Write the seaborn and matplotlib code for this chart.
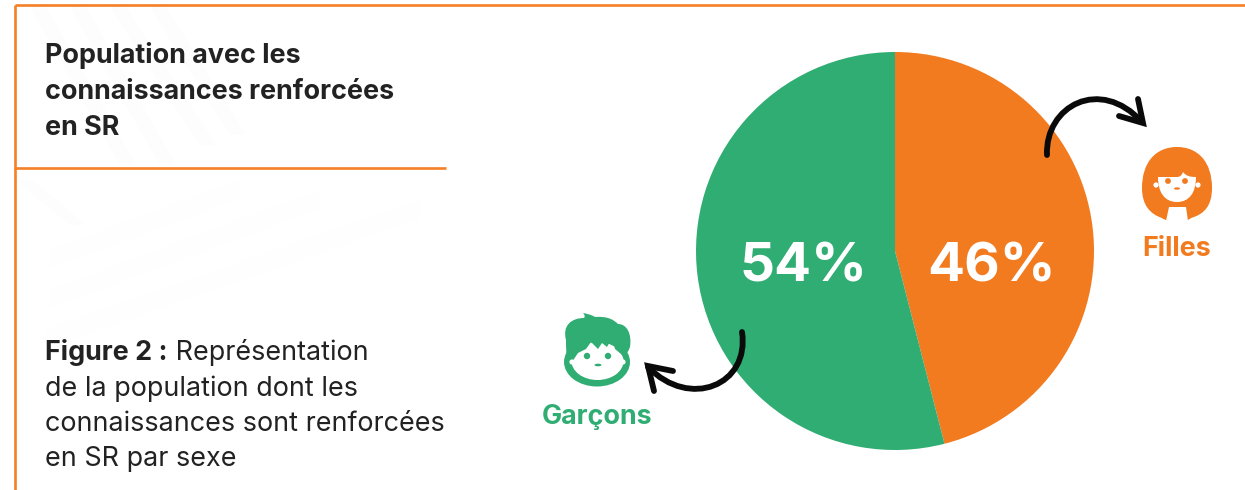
import matplotlib
matplotlib.use("Agg")
import matplotlib.pyplot as plt
from matplotlib.patches import Circle, Ellipse, PathPatch, Polygon
from matplotlib.path import Path
import seaborn as sns

# Share of the population with reinforced knowledge, by sex
sexes = ["Filles", "Garçons"]
shares = [46, 54]
slice_colors = ["#F27A1F", "#2FAD73"]

title_lines = ["Population avec les", "connaissances renforcées", "en SR"]
caption_head = "Figure 2 :"
caption_lines = [" Représentation", "de la population dont les",
                 "connaissances sont renforcées", "en SR par sexe"]

W, H = 1245, 490
LINE = "#F58025"
INK = "#222222"
ARROW = "#0A0A0A"
FS = 19.4

sns.set_theme(style="white")
plt.rcParams["font.family"] = ["Inter", "DejaVu Sans"]

fig = plt.figure(figsize=(W / 100, H / 100), dpi=100, facecolor="white")

# Full-figure layer measured in pixels, for the frame, text and pictograms
bg = fig.add_axes([0, 0, 1, 1], zorder=1)
bg.set_xlim(0, W)
bg.set_ylim(H, 0)
bg.axis("off")


def curve(axes, verts, **kw):
    codes = [Path.MOVETO] + [Path.CURVE4] * (len(verts) - 1)
    patch = PathPatch(Path(verts, codes), **kw)
    axes.add_patch(patch)
    return patch


# Faint woven stripes behind the text column
for x0, y0, x1, y1 in [(30, 7, 120, 165), (70, 7, 160, 165), (110, 7, 200, 145),
                       (150, 7, 230, 135), (16, 180, 70, 225)]:
    bg.add_patch(Polygon([(x0, y0), (x0 + 16, y0), (x1 + 16, y1), (x1, y1)],
                         fc="#FDFDFD", ec="none", zorder=0))
for x0, y0, x1, y1 in [(50, 250, 240, 180), (50, 290, 320, 190), (45, 330, 420, 200)]:
    bg.add_patch(Polygon([(x0, y0), (x1, y1), (x1, y1 + 18), (x0, y0 + 18)],
                         fc="#FEFEFE", ec="none", zorder=0))

# Frame
bg.plot([15, W], [5.5, 5.5], color=LINE, lw=1.9, solid_capstyle="butt")
bg.plot([14.5, 14.5], [5, H], color=LINE, lw=1.9, solid_capstyle="butt")
bg.plot([14, 446], [168.5, 168.5], color=LINE, lw=1.9, solid_capstyle="butt")

# Heading and caption
for line, y in zip(title_lines, [63, 99, 135]):
    bg.text(45, y, line, fontsize=FS, fontweight="bold", color=INK, va="baseline")
head = bg.text(45, 360, caption_head, fontsize=FS, fontweight="bold", color=INK, va="baseline")
fig.canvas.draw()
head_end = head.get_window_extent().x1
bg.text(head_end, 360, caption_lines[0], fontsize=FS, color=INK, va="baseline")
for line, y in zip(caption_lines[1:], [396, 431, 466]):
    bg.text(45, y, line, fontsize=FS, color=INK, va="baseline")

# Pie: first slice runs clockwise from twelve o'clock
cx, cy, r = 895, 251, 199
pie_ax = fig.add_axes([(cx - r) / W, 1 - (cy + r) / H, 2 * r / W, 2 * r / H], zorder=2)
pie_ax.pie(shares, colors=slice_colors, startangle=90, counterclock=False, radius=1,
           wedgeprops={"linewidth": 0})
pie_ax.set_xlim(-1, 1)
pie_ax.set_ylim(-1, 1)

# Overlay for the percentages, arrows and pictograms
fg = fig.add_axes([0, 0, 1, 1], zorder=3)
fg.set_xlim(0, W)
fg.set_ylim(H, 0)
fg.axis("off")
fg.patch.set_alpha(0)

fg.text(991, 281, f"{shares[0]}%", fontsize=39.5, fontweight="bold", color="white",
        ha="center", va="baseline")
fg.text(803, 281, f"{shares[1]}%", fontsize=39.5, fontweight="bold", color="white",
        ha="center", va="baseline")

arrow_kw = dict(fc="none", ec=ARROW, lw=4.2, capstyle="round", joinstyle="round")
curve(fg, [(1047, 155), (1045, 106), (1100, 76), (1142, 122)], **arrow_kw)
fg.plot([1138, 1143, 1119], [99, 123, 116], color=ARROW, lw=4.2,
        solid_capstyle="round", solid_joinstyle="miter")
curve(fg, [(742, 332), (750, 385), (690, 410), (648, 367)], **arrow_kw)
fg.plot([673, 648, 654], [371, 366, 391], color=ARROW, lw=4.2,
        solid_capstyle="round", solid_joinstyle="miter")

# Girl pictogram
O, G = slice_colors
curve(fg, [(1177, 147), (1198, 147), (1212, 162), (1212, 188),
           (1212, 205), (1205, 214), (1191, 218),
           (1190, 219), (1188, 220), (1187, 220),
           (1185, 215), (1170, 215), (1167, 220),
           (1165, 220), (1163, 219), (1162, 218),
           (1150, 214), (1142, 205), (1142, 188),
           (1142, 162), (1156, 147), (1177, 147)], fc=O, ec="none")
fg.add_patch(Polygon([(1169, 207), (1186, 207), (1188, 221), (1166, 221)], fc="white", ec="none"))
curve(fg, [(1158, 177), (1158, 193), (1165, 202), (1177, 202),
           (1189, 202), (1196, 193), (1196, 177),
           (1190, 177), (1186, 176), (1183, 172),
           (1182, 175), (1180, 177), (1177, 177),
           (1170, 177), (1164, 177), (1158, 177)], fc="white", ec="none")
fg.add_patch(Circle((1156, 185), 2.6, fc="white", ec="none"))
fg.add_patch(Circle((1198, 185), 2.6, fc="white", ec="none"))
fg.add_patch(Circle((1168, 181), 2.9, fc=O, ec="none"))
fg.add_patch(Circle((1185, 181), 2.9, fc=O, ec="none"))
fg.add_patch(Ellipse((1177, 188.5), 6, 2.4, fc=O, ec="none"))
fg.text(1177, 256, sexes[0], fontsize=FS, fontweight="bold", color=O,
        ha="center", va="baseline")

# Boy pictogram: head, hair, face, then the fringe over the face
fg.add_patch(Ellipse((597, 362), 66, 49, fc=G, ec="none"))
curve(fg, [(566, 340), (562, 325), (572, 318), (584, 318),
           (585, 317), (585, 315), (583, 313),
           (588, 314), (592, 315), (595, 317),
           (608, 316), (614, 320), (618, 324),
           (627, 324), (632, 334), (630, 347),
           (628, 352), (626, 355), (624, 358),
           (610, 360), (580, 360), (567, 358),
           (566, 352), (566, 346), (566, 340)], fc=G, ec="none")
fg.add_patch(Ellipse((597.5, 361), 52, 38, fc="white", ec="none"))
fg.add_patch(Polygon([(568, 336), (627, 336), (627, 362), (621, 354), (615, 349), (612, 338),
                      (607, 347), (602, 343), (598, 349), (591, 342), (586, 349), (578, 353),
                      (572, 362), (568, 362)], fc=G, ec="none"))
fg.add_patch(Circle((572, 362), 2.6, fc="white", ec="none"))
fg.add_patch(Circle((623, 362), 2.6, fc="white", ec="none"))
fg.add_patch(Circle((587, 356), 3.2, fc=G, ec="none"))
fg.add_patch(Circle((608, 356), 3.2, fc=G, ec="none"))
fg.add_patch(Ellipse((598, 365), 7, 2.6, fc=G, ec="none"))
fg.text(597.5, 424, sexes[1], fontsize=FS, fontweight="bold", color=G,
        ha="center", va="baseline")

fig.savefig("out.png", dpi=100, facecolor="white")
